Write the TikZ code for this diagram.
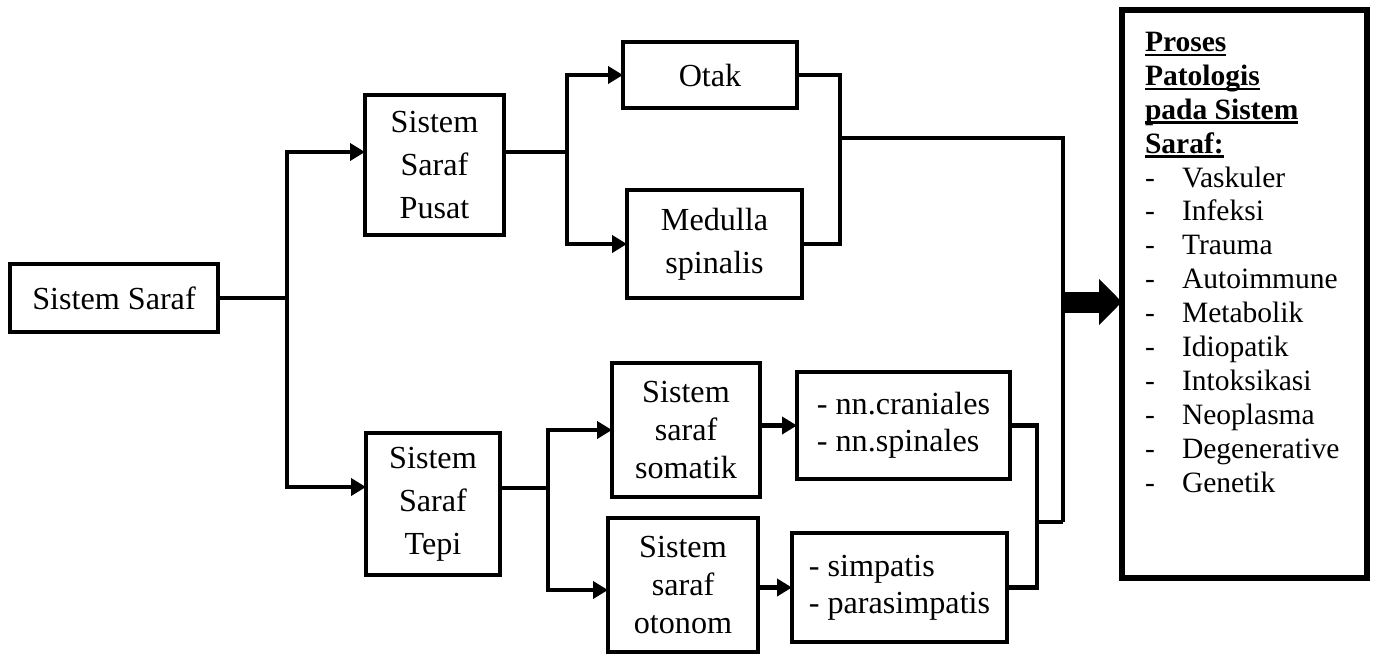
\documentclass[tikz,border=0pt]{standalone}
\usepackage{fontspec}
\setmainfont{Liberation Serif}
\usetikzlibrary{arrows.meta,positioning,calc}
\tikzset{
  boxn/.style 2 args={draw, rectangle, line width=2.6pt, inner sep=0pt, outer sep=0pt,
    align=center, minimum width=#1*0.02cm, minimum height=#2*0.02cm},
  listbox/.style={align=left, font=\fontsize{18.3}{21}\selectfont},
  tightbox/.style={font=\fontsize{18.3}{21.8}\selectfont},
  link/.style={line width=2.6pt},
  arr/.style={-{Triangle[length=0.3cm,width=0.34cm]}, line width=2.6pt},
  bigarr/.style={-{Triangle[length=0.46cm,width=0.9cm]}, line width=0.42cm},
}
\newcommand{\hdul}[1]{\sbox0{#1}\rlap{\rule[-2.8pt]{\wd0}{1.5pt}}\usebox0}
\newcommand{\itm}[1]{\makebox[0.74cm][l]{-}#1}

\begin{document}
\begin{tikzpicture}[x=0.02cm, y=-0.02cm, font=\fontsize{18.3}{24.5}\selectfont]
    \useasboundingbox (0,0) rectangle (1374,656);
    % boxes of the tree
    \node[boxn={208}{68}] (sis) at (114,298) {Sistem Saraf};
    \node[boxn={139}{140}] (ssp) at (434.5,165) {Sistem\\Saraf\\Pusat};
    \node[boxn={134}{142}] (sst) at (433,504) {Sistem\\Saraf\\Tepi};
    \node[boxn={174}{66}] (otak) at (710,75) {Otak};
    \node[boxn={175}{108}] (med) at (714.5,244) {Medulla\\spinalis};
    \node[boxn={148}{134}, tightbox] (som) at (686,430) {Sistem\\saraf\\somatik};
    \node[boxn={150}{134}, tightbox] (oto) at (683,585) {Sistem\\saraf\\otonom};
    \node[boxn={213}{107}, listbox] (nn) at (903.5,425.5) {- nn.craniales\\- nn.spinales};
    \node[boxn={215}{109}, listbox] (simp) at (899.5,587.5) {- simpatis\\- parasimpatis};
    % list of pathological processes, set from the top
    \node[boxn={245}{568}, line width=3pt, font=\fontsize{16.8}{19.3}\selectfont] (proc) at (1244.5,294)
      {\parbox[c][11.36cm][t]{4.9cm}{\raggedright\leftskip=0.46cm
       \vspace*{0.44cm}
       \textbf{\hdul{Proses}}\\ \textbf{\hdul{Patologis}}\\ \textbf{\hdul{pada Sistem}}\\
       \textbf{\hdul{Saraf:}}\\ \itm{Vaskuler}\\ \itm{Infeksi}\\ \itm{Trauma}\\
       \itm{Autoimmune}\\ \itm{Metabolik}\\ \itm{Idiopatik}\\ \itm{Intoksikasi}\\
       \itm{Neoplasma}\\ \itm{Degenerative}\\ \itm{Genetik}}};
    % junction points
    \coordinate (j1) at (287,298);
    \coordinate (j2) at (567,152);
    \coordinate (j3) at (548,488);
    \coordinate (b1) at (840,138);
    \coordinate (b2) at (1037,522);
    \coordinate (t1) at (1063,138);
    \coordinate (t2) at (1063,522);
    \coordinate (t3) at (1063,302);
    % first split
    \draw[link] (sis.east) -- (j1);
    \draw[arr] (j1) |- ($(ssp.west)+(0,-13)$);
    \draw[arr] (j1) |- ($(sst.west)+(0,-17)$);
    % central branch
    \draw[link] ($(ssp.east)+(0,-13)$) -- (j2);
    \draw[arr] (j2) |- (otak.west);
    \draw[arr] (j2) |- (med.west);
    \draw[link] (otak.east) -| (b1) |- (med.east);
    % peripheral branch
    \draw[link] ($(sst.east)+(0,-16)$) -- (j3);
    \draw[arr] (j3) |- (som.west);
    \draw[arr] (j3) |- ($(oto.west)+(0,5)$);
    \draw[arr] (som.east |- nn.west) -- (nn.west);
    \draw[arr] (oto.east |- simp.west) -- (simp.west);
    \draw[link] (nn.east) -| (b2) |- (simp.east);
    % collector and big arrow
    \draw[link] (b1) -- (t1) -- (t2);
    \draw[link] (b2) -- (t2);
    \draw[bigarr] (t3) -- (t3 -| proc.west);
\end{tikzpicture}
\end{document}
